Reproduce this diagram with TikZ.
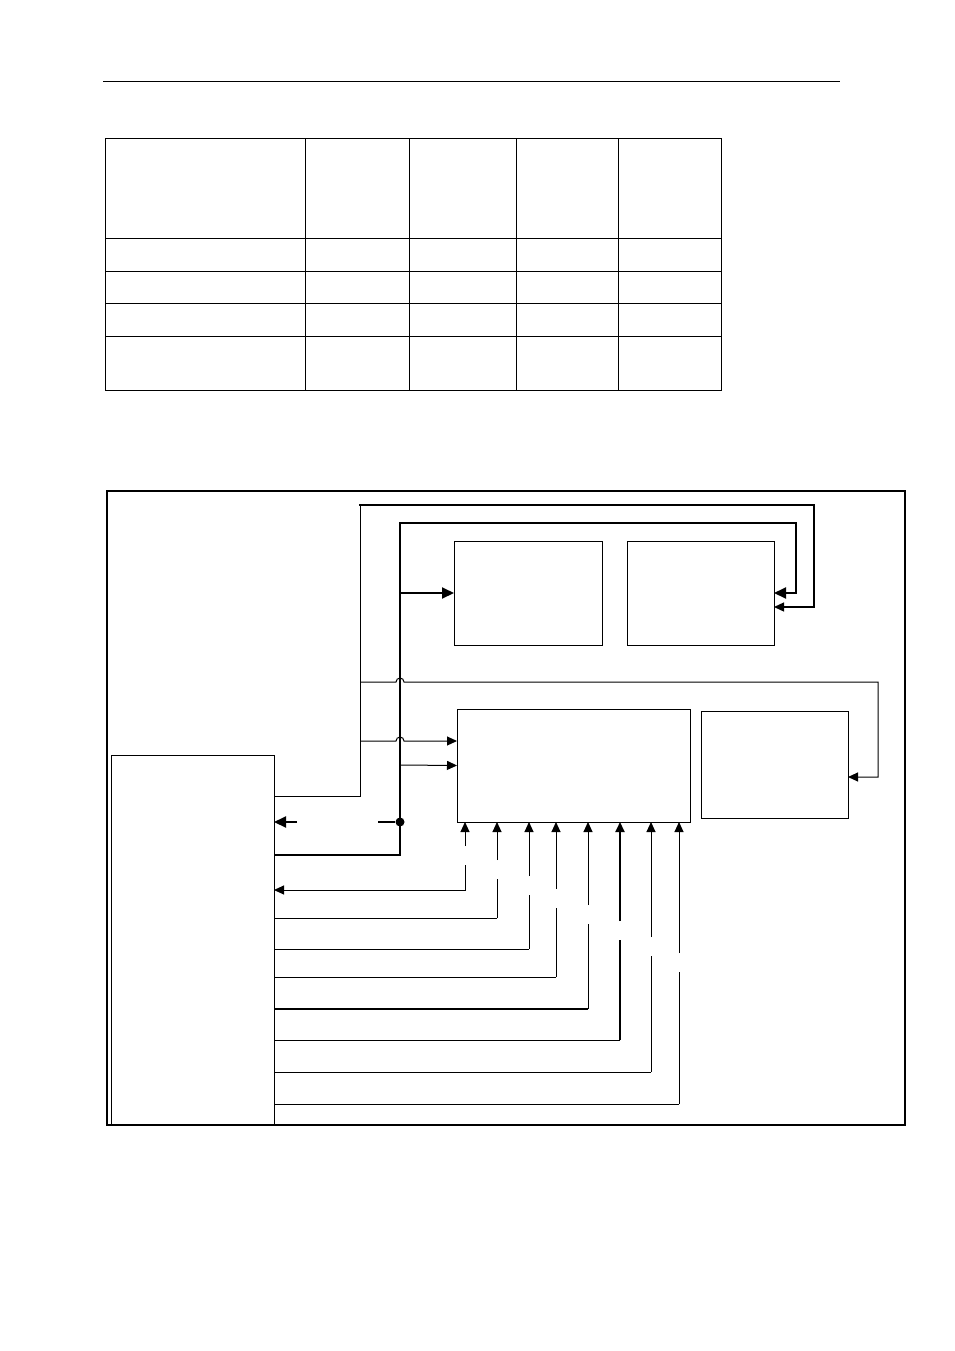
\documentclass[tikz,border=0pt]{standalone}
\usetikzlibrary{arrows.meta}
\begin{document}
\begin{tikzpicture}[x=1pt,y=-1pt,
    blk/.style={draw,line width=1pt,inner sep=0pt,outer sep=0pt,anchor=north west},
    dot/.style={circle,fill,inner sep=0pt,minimum size=9pt},
    sig/.style={line width=1pt,-{Triangle[length=10pt,width=9pt]}},
    bus/.style={line width=2pt,-{Triangle[length=12pt,width=11pt]}}]
  \useasboundingbox (0,0) rectangle (954,1351);

  % header rule and table
  \draw[line width=1pt] (103,82) -- (840,82);
  \draw[line width=1pt] (105,139) rectangle (721,390);
  \foreach \yy in {238,271,303,336}
    \draw[line width=1pt] (105,\yy) -- (721,\yy);
  \foreach \xx in {305,409,516,618}
    \draw[line width=1pt] (\xx,139) -- (\xx,390);

  % frame and blocks
  \draw[line width=1.3pt] (107,491) rectangle (905,1125);
  \node[blk,minimum width=163pt,minimum height=370pt] (host) at (111,755) {};
  \node[blk,minimum width=148pt,minimum height=104pt] (ctrA) at (454,541) {};
  \node[blk,minimum width=147pt,minimum height=104pt] (ctrB) at (627,541) {};
  \node[blk,minimum width=233pt,minimum height=113pt] (ctrC) at (457,709) {};
  \node[blk,minimum width=147pt,minimum height=107pt] (ctrD) at (701,711) {};

  % upper loops
  \draw[line width=1pt] ([yshift=-41pt]host.north east) -| (360,505);
  \draw[sig,line width=1.3pt,line cap=rect] (360,505) -| (814,607) -- ([yshift=-14pt]ctrB.east);
  \draw[bus] ([yshift=-100pt]host.north east) -| (400,523) -| (796,593) -- (ctrB.east);
  \draw[bus] (400,593) -- (ctrA.west);

  % lines with bridges over the bus
  \draw[sig] (360,682) -- (396,682) arc (180:360:4) -- (878,682)
    |- ([yshift=-12.5pt]ctrD.east);
  \draw[sig] (360,741) -- (396,741) arc (180:360:4) -- ([yshift=24.5pt]ctrC.west);
  \draw[sig] (400,765) -- (ctrC.west);

  \node[dot] (jn) at (400,822) {};
  \draw[line width=2pt] (378,822) -- (jn);
  \draw[bus] (297,822) -- ([yshift=-67pt]host.north east);

  % inputs at the bottom of ctrC
  \draw[sig] (465,846) -- (465,0 |- ctrC.south);
  \draw[sig] (465,865) |- (host.east |- 0,890);
  \foreach \xx/\yy/\gs/\vw/\hw in {497/918/860/1/1, 529/949/876/1/1, 556/977/889/1/1,
      588/1009/905/1/2, 620/1040/921/2/1, 651/1072/937/1/1, 679/1104/953/1/1}
  {
    \draw[sig,line width=\vw pt] (\xx,\gs) -- (\xx,0 |- ctrC.south);
    \draw[line width=\vw pt] (\xx,\gs+19) -- (\xx,\yy);
    \draw[line width=\hw pt] (\xx,\yy) -- (host.east |- 0,\yy);
  }
\end{tikzpicture}
\end{document}
